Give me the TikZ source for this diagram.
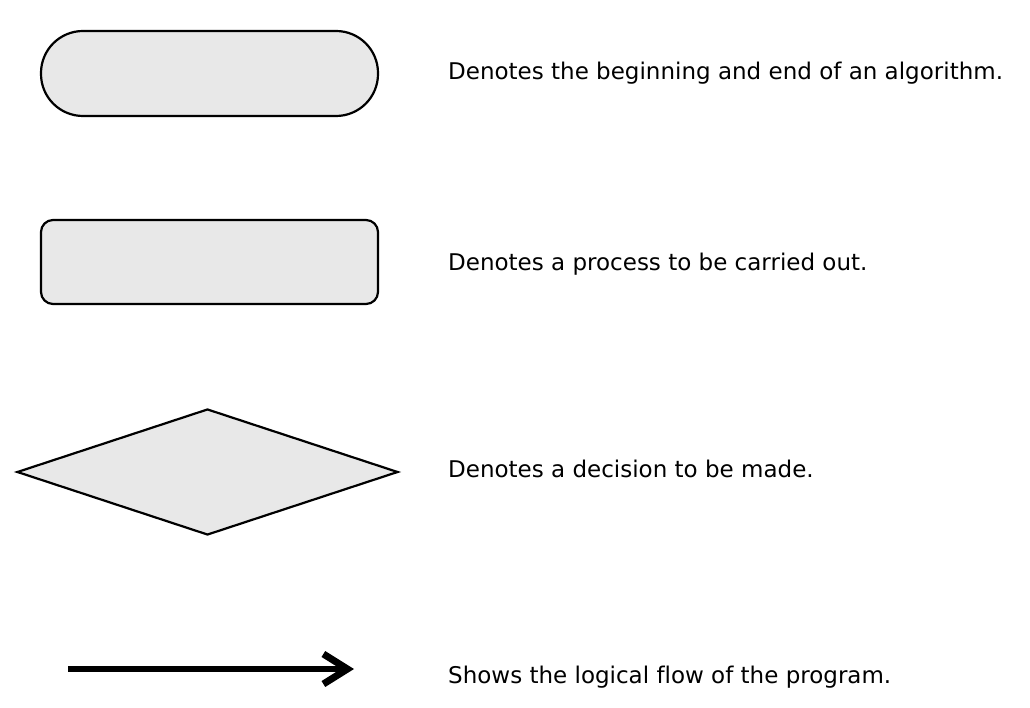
\documentclass[tikz,border=0pt]{standalone}
\usepackage{fontspec}
\setmainfont{DejaVu Sans}[Ligatures=NoCommon]
\usetikzlibrary{shapes.geometric,arrows.meta}
\definecolor{shapefill}{HTML}{E8E8E8}
\tikzset{
  sym/.style={draw=black, line width=2.2pt, fill=shapefill, inner sep=0pt},
  terminal/.style={sym, rectangle, minimum width=337pt, minimum height=85pt, rounded corners=42pt},
  processbox/.style={sym, rectangle, minimum width=337pt, minimum height=84pt, rounded corners=12pt},
  decisionbox/.style={sym, diamond, minimum width=381pt, minimum height=126pt, aspect=3.02},
  flow/.style={line width=6pt, -{Straight Barb[length=24pt,width=30pt,line width=7pt]}},
  desc/.style={anchor=base west, inner sep=0pt, font=\fontsize{23pt}{27pt}\selectfont, text=black}
}
\begin{document}
\begin{tikzpicture}[x=1pt,y=-1pt]
\useasboundingbox[fill=white] (0,0) rectangle (1030,708);
\node[terminal] (term) at (209.5,73.5) {};
\node[processbox] (proc) at (209.5,262) {};
\node[decisionbox] (dec) at (207.5,472) {};
\coordinate (fa) at (68,669);
\coordinate (fb) at (354,669);
\draw[flow] (fa) -- (fb);
\node[desc] (t1) at (448,80) {Denotes the beginning and end of an algorithm.};
\node[desc] (t2) at (448,271) {Denotes a process to be carried out.};
\node[desc] (t3) at (448,477) {Denotes a decision to be made.};
\node[desc] (t4) at (448,683) {Shows the logical flow of the program.};
\end{tikzpicture}
\end{document}
